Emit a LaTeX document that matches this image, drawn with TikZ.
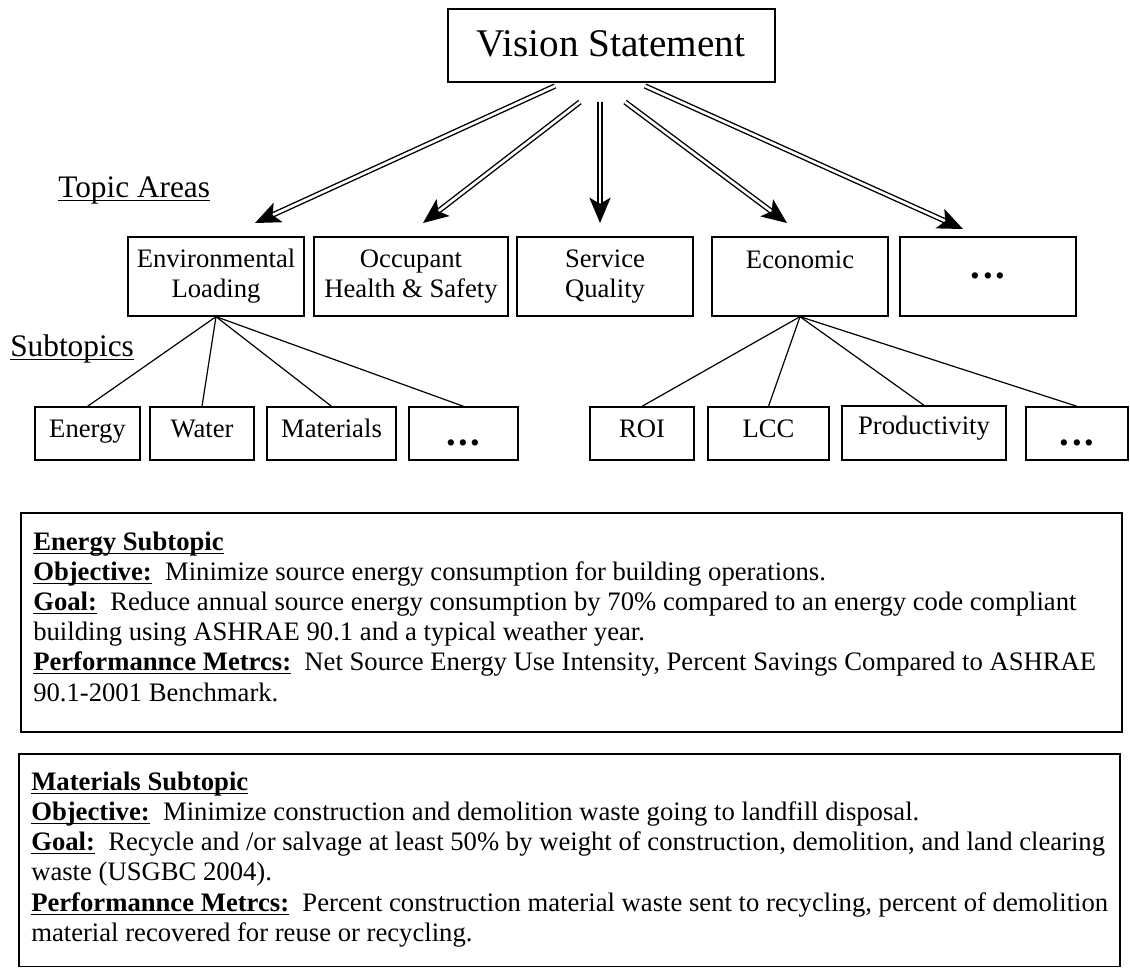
\documentclass[tikz,border=0pt]{standalone}
\usepackage{fontspec}
\setmainfont{Liberation Serif}
\usetikzlibrary{arrows.meta,fit}
\newsavebox{\myulbox}
\newcommand{\myul}[1]{\sbox{\myulbox}{#1}\leavevmode\rlap{\vrule width \wd\myulbox height -1.9pt depth 3.3pt}\usebox{\myulbox}}
\begin{document}
\begin{tikzpicture}[x=0.75pt,y=-0.75pt,
  box/.style={draw, line width=1pt, inner sep=0pt},
  dbl/.style={line width=1.05pt, double distance=2pt, -{Stealth[length=19pt,width=16pt,inset=4.5pt]}},
  thinline/.style={line width=0.9pt},
  txt/.style={anchor=base, inner sep=0pt, font=\fontsize{20}{23}\selectfont},
  body/.style={anchor=base west, inner sep=0pt, font=\fontsize{20}{23}\selectfont},
  head/.style={anchor=base west, inner sep=0pt, font=\fontsize{23.5}{27}\selectfont},
  dots/.style={anchor=center, inner sep=0pt, font=\fontsize{29}{32}\selectfont\bfseries}
]
\useasboundingbox (0,0) rectangle (1130,968);
\newcommand{\threedots}{.\kern2pt.\kern2pt.}

% vision
\node[box, fit={(448,9) (775,82)}] (vision) {};
\node[anchor=base, inner sep=0pt, font=\fontsize{29.4}{34}\selectfont] (visiontxt) at (611,56) {Vision Statement};

% labels
\node[head] (topicareas) at (58,197) {\myul{Topic Areas}};
\node[head] (subtopics) at (10,356) {\myul{Subtopics}};

% topic boxes
\node[box, fit={(128,237) (304,316)}] (env) {};
\node[box, fit={(314,237) (508,316)}] (occ) {};
\node[box, fit={(517,237) (693,316)}] (svc) {};
\node[box, fit={(712,237) (888,316)}] (eco) {};
\node[box, fit={(900,237) (1076,316)}] (more) {};

\node[txt] (envA) at (216,267) {Environmental};
\node[txt] (envB) at (216,297) {Loading};
\node[txt] (occA) at (411,267) {Occupant};
\node[txt] (occB) at (411,297) {Health \& Safety};
\node[txt] (svcA) at (605,267) {Service};
\node[txt] (svcB) at (605,297) {Quality};
\node[txt] (ecoA) at (800,268) {Economic};
\node[dots] (moreA) at (988,276) {\threedots};

% arrows
\coordinate (s1) at (555,86);  \coordinate (t1) at (255,223);
\coordinate (s2) at (580,102); \coordinate (t2) at (423,223);
\coordinate (s3) at (600,102); \coordinate (t3) at (600,223);
\coordinate (s4) at (625,102); \coordinate (t4) at (787,223);
\coordinate (s5) at (645,86);  \coordinate (t5) at (963,229);
\draw[dbl] (s1) -- (t1);
\draw[dbl] (s2) -- (t2);
\draw[dbl] (s3) -- (t3);
\draw[dbl] (s4) -- (t4);
\draw[dbl] (s5) -- (t5);

% subtopic boxes left
\node[box, fit={(35,407) (140,460)}] (energy) {};
\node[box, fit={(150,407) (254,460)}] (water) {};
\node[box, fit={(267,407) (396,460)}] (materials) {};
\node[box, fit={(409,407) (518,460)}] (lmore) {};
\node[txt] (energyT) at (87.5,437) {Energy};
\node[txt] (waterT) at (202,437) {Water};
\node[txt] (materialsT) at (331.5,437) {Materials};
\node[dots] (lmoreT) at (463.5,443) {\threedots};

% subtopic boxes right
\node[box, fit={(590,407) (694,460)}] (roi) {};
\node[box, fit={(708,407) (829,460)}] (lcc) {};
\node[box, fit={(842,406) (1006,460)}] (prod) {};
\node[box, fit={(1026,407) (1128,460)}] (rmore) {};
\node[txt] (roiT) at (642,437) {ROI};
\node[txt] (lccT) at (768.5,437) {LCC};
\node[txt] (prodT) at (924,434) {Productivity};
\node[dots] (rmoreT) at (1077,443) {\threedots};

% connectors
\draw[thinline] (env.south) -- (energy.north);
\draw[thinline] (env.south) -- (water.north);
\draw[thinline] (env.south) -- (materials.north);
\draw[thinline] (env.south) -- (lmore.north);
\draw[thinline] (eco.south) -- (roi.north);
\draw[thinline] (eco.south) -- (lcc.north);
\draw[thinline] (eco.south) -- (prod.north);
\draw[thinline] (eco.south) -- (rmore.north);

% energy text box
\node[box, fit={(21,513) (1122,732)}] (energybox) {};
\node[body] (e1) at (33,550) {\myul{\textbf{Energy Subtopic}}};
\node[body] (e2) at (33,580) {\myul{\textbf{Objective:}}\ \ Minimize source energy consumption for building operations.};
\node[body] (e3) at (33,610) {\myul{\textbf{Goal:}}\ \ Reduce annual source energy consumption by 70\% compared to an energy code compliant};
\node[body] (e4) at (33,640) {building using ASHRAE 90.1 and a typical weather year.};
\node[body] (e5) at (33,670) {\myul{\textbf{Performannce Metrcs:}}\ \ Net Source Energy Use Intensity, Percent Savings Compared to ASHRAE};
\node[body] (e6) at (33,701) {90.1-2001 Benchmark.};

% materials text box
\node[box, fit={(19,754) (1120,966.5)}] (matbox) {};
\node[body] (m1) at (31,790) {\myul{\textbf{Materials Subtopic}}};
\node[body] (m2) at (31,820) {\myul{\textbf{Objective:}}\ \ Minimize construction and demolition waste going to landfill disposal.};
\node[body] (m3) at (31,850) {\myul{\textbf{Goal:}}\ \ Recycle and /or salvage at least 50\% by weight of construction, demolition, and land clearing};
\node[body] (m4) at (31,880) {waste (USGBC 2004).};
\node[body] (m5) at (31,911) {\myul{\textbf{Performannce Metrcs:}}\ \ Percent construction material waste sent to recycling, percent of demolition};
\node[body] (m6) at (31,941) {material recovered for reuse or recycling.};
\end{tikzpicture}
\end{document}
